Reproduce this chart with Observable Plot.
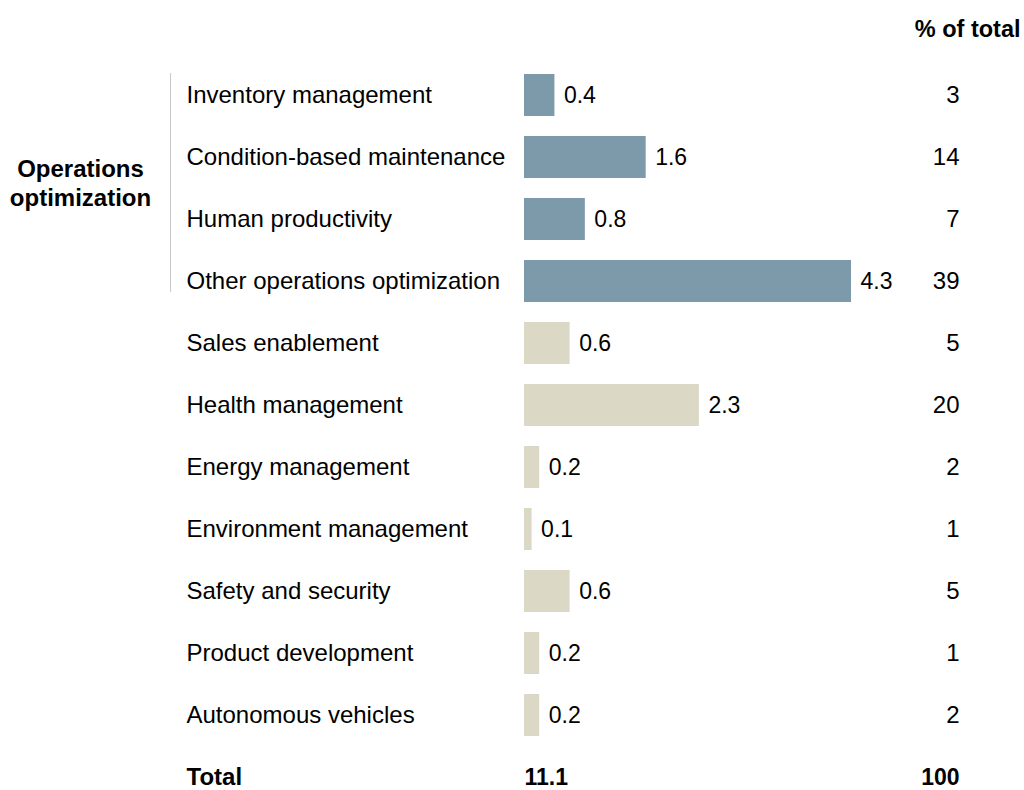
<!DOCTYPE html>
<html><head><meta charset="utf-8">
<script src="https://cdn.jsdelivr.net/npm/d3@7"></script>
<script src="https://cdn.jsdelivr.net/npm/@observablehq/plot@0.6"></script>
<style>body{margin:0;background:#fff;} svg{display:block}</style>
</head><body><div id="chart"></div>
<script>
const categories = [
  "Inventory management",
  "Condition-based maintenance",
  "Human productivity",
  "Other operations optimization",
  "Sales enablement",
  "Health management",
  "Energy management",
  "Environment management",
  "Safety and security",
  "Product development",
  "Autonomous vehicles"
];
const values = [0.4, 1.6, 0.8, 4.3, 0.6, 2.3, 0.2, 0.1, 0.6, 0.2, 0.2];
const shares = [3, 14, 7, 39, 5, 20, 2, 1, 5, 1, 2];
const groups = ["ops", "ops", "ops", "ops", "other", "other", "other", "other", "other", "other", "other"];
const groupTitle = "Operations\noptimization";
const shareHeader = "% of total";
const totalLabel = "Total";
const totalValue = 11.1;
const totalShare = 100;

const rows = categories.map((c, i) => ({category: c, value: values[i], share: shares[i], group: groups[i]}));
const totals = [{category: totalLabel, value: totalValue, share: totalShare}];
const yDomain = [...categories, totalLabel];
const opsCats = categories.filter((c, i) => groups[i] === "ops");

const chart = Plot.plot({
  width: 1024,
  height: 790,
  margin: 0,
  style: {fontFamily: 'Arial, "Liberation Sans", sans-serif', fontSize: "23px", color: "#000", background: "#fff"},
  x: {domain: [0, 4.3], range: [524, 851], axis: null},
  y: {domain: yDomain, range: [50.4, 821.6], padding: 0.32, axis: null},
  color: {domain: ["ops", "other"], range: ["#7d9aab", "#dbd9c6"]},
  marks: [
    Plot.barX(rows, {x: "value", y: "category", fill: "group"}),
    Plot.text(rows, {x: "value", y: "category", text: d => d.value.toFixed(1), textAnchor: "start", dx: 9, fontSize: 23, fill: "#000"}),
    Plot.text(rows, {y: "category", text: "category", frameAnchor: "left", dx: 186, textAnchor: "start", fontSize: 24, fill: "#000"}),
    Plot.text(rows, {y: "category", text: d => String(d.share), frameAnchor: "right", dx: -65, textAnchor: "end", fontSize: 24, fill: "#000"}),
    Plot.text(totals, {y: "category", text: "category", frameAnchor: "left", dx: 186, textAnchor: "start", fontWeight: "bold", fontSize: 24, fill: "#000"}),
    Plot.text(totals, {x: () => 0, y: "category", text: d => d.value.toFixed(1), textAnchor: "start", fontWeight: "bold", fontSize: 23, fill: "#000"}),
    Plot.text(totals, {y: "category", text: d => String(d.share), frameAnchor: "right", dx: -65, textAnchor: "end", fontWeight: "bold", fontSize: 23, fill: "#000"}),
    Plot.ruleX([0], {x: d => d, y1: () => opsCats[0], y2: () => opsCats[opsCats.length - 1], dx: -354, insetBottom: 10, insetTop: -1, stroke: "#c8c8c8", strokeWidth: 1}),
    Plot.text([groupTitle], {y: () => opsCats[1], text: d => d, frameAnchor: "left", dx: 80, dy: 25, textAnchor: "middle", fontWeight: "bold", fontSize: 24, lineHeight: 1.2, fill: "#000"}),
    Plot.text([shareHeader], {text: d => d, frameAnchor: "top-right", dx: -4, dy: 20, lineAnchor: "top", fontWeight: "bold", fontSize: 23.5, fill: "#000"})
  ]
});
document.getElementById("chart").append(chart);
</script>
</body></html>
